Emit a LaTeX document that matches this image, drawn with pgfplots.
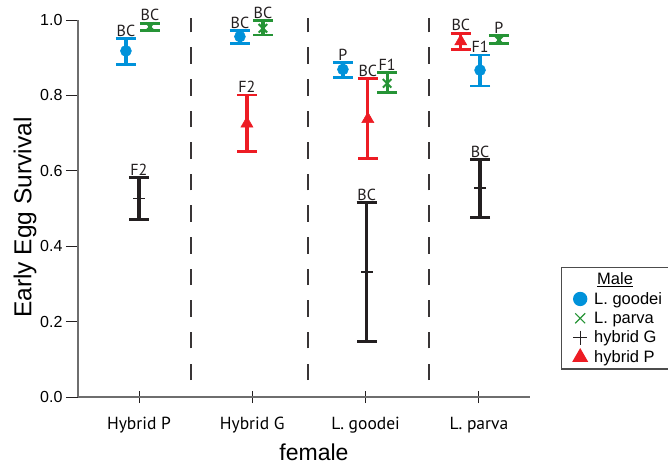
\documentclass[border=0pt]{standalone}
\usepackage{pgfplots}
\pgfplotsset{compat=1.18}
\usepackage{fontspec}
\setmainfont{Liberation Sans}
\newfontfamily\myriad{PT Sans}
\definecolor{cblue}{RGB}{0,146,218}
\definecolor{cgreen}{RGB}{38,148,54}
\definecolor{cred}{RGB}{237,28,36}
\definecolor{cblack}{RGB}{35,31,32}
\definecolor{axgray}{RGB}{110,110,110}
\pgfplotsset{every error bar/.append style={line width=3.2pt}}
\begin{document}
\begin{tikzpicture}
\begin{axis}[
  at={(0pt,0pt)}, anchor=south west,
  scale only axis, width=452pt, height=377pt,
  xmin=-0.538, xmax=3.451, ymin=0, ymax=1.0,
  clip=false,
  axis lines*=left,
  axis line style={axgray, line width=1.1pt},
  xtick={0,1,2,3},
  xticklabels={Hybrid P, Hybrid G, L. goodei, L. parva},
  ytick={0,0.2,0.4,0.6,0.8,1.0},
  yticklabel style={/pgf/number format/fixed, /pgf/number format/fixed zerofill, /pgf/number format/precision=1, /pgf/number format/assume math mode=true, font=\fontsize{16}{18}\selectfont},
  xticklabel style={font=\myriad\fontsize{17.5}{20}\selectfont, yshift=-11pt},
  xtick align=center,
  ytick align=outside,
  major tick length=12pt,
  tick style={cblack, line width=0.9pt},
  every axis y label/.style={at={(axis description cs:-0.117,0.476)}, rotate=90, anchor=center, font=\fontsize{24.5}{28}\selectfont},
  every axis x label/.style={at={(axis description cs:0.522,-0.146)}, anchor=center, font=\fontsize{23}{26}\selectfont},
  ylabel={Early Egg Survival},
  xlabel={female},
  legend style={at={(axis description cs:1.0686,0.345)}, anchor=north west,
    draw=black!70, line width=1.3pt, font=\fontsize{16.5}{19}\selectfont,
    inner xsep=10pt, inner ysep=3pt, row sep=2.2pt,
    /tikz/every odd column/.append style={column sep=5pt}},
  legend cell align=left,
]
% separators
\addplot[forget plot, cblack!90, line width=1.3pt, dash pattern=on 16.5pt off 15.1pt] coordinates {(0.459,0.0451) (0.459,1.0053)};
\addplot[forget plot, cblack!90, line width=1.3pt, dash pattern=on 16.5pt off 15.1pt] coordinates {(1.492,0.0451) (1.492,1.0053)};
\addplot[forget plot, cblack!90, line width=1.3pt, dash pattern=on 16.5pt off 15.1pt] coordinates {(2.560,0.0451) (2.560,1.0053)};

% hybrid G (black)
\addplot[forget plot, only marks, mark=-, mark size=6pt, cblack, mark options={line width=1.5pt},
  error bars/.cd, y dir=both, y explicit,
  error bar style={line width=3.2pt, draw=cblack},
  error mark options={rotate=90, line width=2.8pt, mark size=10pt, cblack}]
  table[x=x, y=y, y error plus=ep, y error minus=em] {
x y ep em
0 0.526 0.056 0.055
2.01 0.332 0.184 0.184
3.01 0.554 0.076 0.077
};
% hybrid P (red)
\addplot[forget plot, only marks, mark=triangle*, mark size=7pt, cred, mark options={line width=0.5pt},
  error bars/.cd, y dir=both, y explicit,
  error bar style={line width=3.2pt, draw=cred},
  error mark options={rotate=90, line width=2.8pt, mark size=10pt, cred}]
  table[x=x, y=y, y error plus=ep, y error minus=em] {
x y ep em
0.953 0.725 0.076 0.074
2.02 0.737 0.108 0.104
2.84 0.943 0.022 0.021
};
% L. goodei (blue)
\addplot[forget plot, only marks, mark=*, mark size=5.5pt, cblue, mark options={line width=0.5pt},
  error bars/.cd, y dir=both, y explicit,
  error bar style={line width=3.2pt, draw=cblue},
  error mark options={rotate=90, line width=2.8pt, mark size=10pt, cblue}]
  table[x=x, y=y, y error plus=ep, y error minus=em] {
x y ep em
-0.115 0.918 0.033 0.035
0.891 0.956 0.016 0.018
1.80 0.869 0.019 0.021
3.01 0.867 0.040 0.042
};
% L. parva (green)
\addplot[forget plot, only marks, mark=x, mark size=6pt, cgreen, mark options={line width=2pt},
  error bars/.cd, y dir=both, y explicit,
  error bar style={line width=3.2pt, draw=cgreen},
  error mark options={rotate=90, line width=2.8pt, mark size=10pt, cgreen}]
  table[x=x, y=y, y error plus=ep, y error minus=em] {
x y ep em
0.097 0.982 0.009 0.009
1.094 0.978 0.020 0.018
2.19 0.832 0.028 0.025
3.177 0.947 0.011 0.009
};
% group letters
\addplot[forget plot, only marks, mark=none, nodes near coords, point meta=explicit symbolic,
  nodes near coords style={anchor=south, font=\myriad\fontsize{16}{18}\selectfont, cblack, inner sep=1pt, yshift=1pt}]
  table[x=x, y=y, meta=lab] {
x y lab
-0.115 0.951 BC
0.097 0.991 BC
0 0.582 F2
0.891 0.972 BC
1.094 0.998 BC
0.953 0.801 F2
1.80 0.888 P
2.02 0.845 BC
2.19 0.860 F1
2.01 0.516 BC
2.84 0.965 BC
3.01 0.907 F1
3.177 0.958 P
3.01 0.630 BC
};
% legend
\addlegendimage{empty legend}
\addlegendentry{\makebox[88pt][l]{\hspace{3pt}\underline{Male}}}
\addlegendimage{only marks, mark=*, mark size=6.5pt, cblue}
\addlegendentry{L. goodei}
\addlegendimage{only marks, mark=x, mark size=7pt, cgreen, mark options={line width=1.2pt}}
\addlegendentry{L. parva}
\addlegendimage{only marks, mark=+, mark size=7pt, cblack, mark options={line width=1.2pt}}
\addlegendentry{hybrid G}
\addlegendimage{only marks, mark=triangle*, mark size=8pt, cred}
\addlegendentry{hybrid P}
\end{axis}
\pgfresetboundingbox
\path (-78pt,-69pt) rectangle (590pt,397pt);
\end{tikzpicture}
\end{document}
